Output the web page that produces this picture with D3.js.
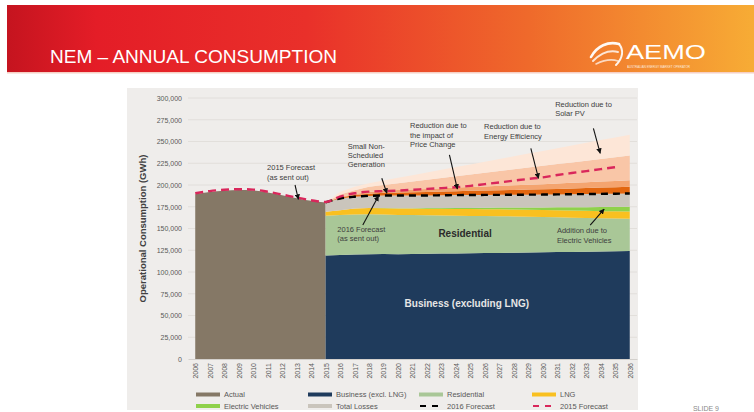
<!DOCTYPE html>
<html>
<head>
<meta charset="utf-8">
<script src="https://cdn.jsdelivr.net/npm/d3@7"></script>
<style>
  body { margin: 0; background: #fff; }
  svg { display: block; font-family: "Liberation Sans", Arial, sans-serif; }
</style>
</head>
<body>
<svg id="chart" width="754" height="412"></svg>
<script>
// categories
const years = ["2006","2007","2008","2009","2010","2011","2012","2013","2014","2015","2016",
  "2017","2018","2019","2020","2021","2022","2023","2024","2025","2026","2027","2028","2029",
  "2030","2031","2032","2033","2034","2035","2036"];
const actualYears = years.slice(0, 10);     // 2006-2015
const forecastYears = years.slice(9);       // 2015-2036
const f2015Years = years.slice(0, 30);      // 2006-2035

const yTicks = [0, 25000, 50000, 75000, 100000, 125000, 150000, 175000, 200000, 225000, 250000, 275000, 300000];

// values (GWh)
const actual = [189500, 192000, 193500, 194300, 193800, 191500, 188300, 184800, 181800, 179800];

const business = [119000,119500,120000,120300,120600,120500,120800,121000,121200,121300,121500,
  121700,121900,122100,122400,122600,122900,123100,123400,123600,123900,124200];
const residential = [45700,46000,46200,46000,45500,45000,44600,44200,43800,43400,43000,
  42600,42200,41800,41200,40600,40000,39400,38800,38200,37600,37000];
const lng = [4500,5500,6800,7200,7300,7400,7500,7600,7700,7800,7800,
  7900,7900,8000,8000,8000,8100,8100,8100,8100,8200,8200];
const ev = [0,0,0,100,200,300,500,700,900,1100,1400,
  1700,2000,2300,2600,3000,3400,3800,4200,4700,5200,5700];
const losses = [10800,13500,13500,13900,14400,14800,14600,14500,14600,14800,14800,
  14700,14700,14600,14700,14800,14800,15000,15100,15200,15100,15200];
const snsg = [0,1000,2000,2500,3000,3300,3600,3900,4200,4500,4800,
  5000,5300,5500,5800,6000,6300,6600,6900,7200,7500,7800];
const priceChange = [0,600,1200,2000,2500,3000,3300,3600,3900,4100,4400,
  4700,5000,5300,5600,5900,6200,6500,6800,7000,7200,7500];
const energyEff = [0,2900,4300,6000,6500,7700,9100,10500,11700,13000,14300,
  15700,17000,18400,19700,21100,22300,23500,24700,26000,27300,28400];
const solarPV = [0,3000,4000,4000,5100,6200,7300,8400,9500,10600,11700,
  12800,13900,15000,16100,17200,18300,19400,20500,21600,22700,23800];

const forecast2015 = [190500,193000,194500,195200,194700,192300,189000,185500,182500,180500,
  186600,190500,192400,193000,193600,194500,195500,196400,197400,199000,
  201000,203000,205000,207000,208800,211500,213800,216000,218200,220500];

const stackKeys = ["business","residential","lng","ev","losses","snsg","priceChange","energyEff","solarPV"];
const colors = {
  actual: "#857866", business: "#1f3b5c", residential: "#a9c797", lng: "#f9c020",
  ev: "#8fd14b", losses: "#cac5bc", snsg: "#e2660f", priceChange: "#f4a46f",
  energyEff: "#f9c6a7", solarPV: "#fde6d7", f2016: "#000", f2015: "#d9275b"
};

const svg = d3.select("#chart");
const defs = svg.append("defs");

// slide header
const grad = defs.append("linearGradient").attr("id", "hdr");
[["0%","#c5141f"],["12%","#e41d27"],["40%","#e9302a"],["70%","#ef6a2b"],["100%","#f7ac35"]]
  .forEach(s => grad.append("stop").attr("offset", s[0]).attr("stop-color", s[1]));

svg.append("rect").attr("x", 7).attr("y", 5).attr("width", 747).attr("height", 67).attr("fill", "url(#hdr)");
svg.append("rect").attr("x", 7).attr("y", 72).attr("width", 747).attr("height", 1.5).attr("fill", "#f6cfc4");

svg.append("text")
  .attr("x", 50).attr("y", 63)
  .attr("fill", "#fff")
  .style("font-family", "'Liberation Sans Narrow', 'Liberation Sans', Arial, sans-serif")
  .style("font-size", "18px")
  .attr("textLength", 287).attr("lengthAdjust", "spacingAndGlyphs")
  .text("NEM \u2013 ANNUAL CONSUMPTION");

// AEMO logo (rough)
const logo = svg.append("g").attr("fill", "none").attr("stroke", "#fff").attr("stroke-linecap", "round");
logo.append("path").attr("d", "M591,57 C597,46 608,41 619,44").attr("stroke-width", 2.6).attr("opacity", 0.95);
logo.append("path").attr("d", "M593,61 C601,53 610,50 618,52").attr("stroke-width", 2).attr("opacity", 0.8);
logo.append("path").attr("d", "M596,64 C604,60 612,59 618,61").attr("stroke-width", 1.6).attr("opacity", 0.7);
logo.append("path").attr("d", "M619,44 C624,50 623,58 616,65").attr("stroke-width", 2).attr("opacity", 0.9);
svg.append("text").attr("x", 626).attr("y", 59).attr("fill", "#fff")
  .style("font-size", "20px")
  .attr("textLength", 80).attr("lengthAdjust", "spacingAndGlyphs")
  .text("AEMO");
svg.append("text").attr("x", 627).attr("y", 67.5).attr("fill", "#fff").attr("opacity", 0.8)
  .style("font-size", "3px").text("AUSTRALIAN ENERGY MARKET OPERATOR");

// chart panel
svg.append("rect").attr("x", 127).attr("y", 88).attr("width", 511).attr("height", 322).attr("fill", "#efedeb");

svg.append("text").attr("x", 719).attr("y", 411).attr("text-anchor", "end")
  .attr("fill", "#8a8a8a").style("font-size", "7px").text("SLIDE 9");

// scales
const x = d3.scalePoint().domain(years).range([188, 637]).padding(0.5);
const xl = d3.scaleLinear().domain([2006, 2036]).range([x("2006"), x("2036")]);
const y = d3.scaleLinear().domain([0, 300000]).range([359, 98]);

// gridlines
svg.append("g").selectAll("line")
  .data(yTicks.slice(1))
  .enter().append("line")
  .attr("x1", 188).attr("x2", 637)
  .attr("y1", d => y(d)).attr("y2", d => y(d))
  .attr("stroke", "#dedbd7").attr("stroke-width", 0.8);

// actual history
const actualData = actualYears.map((yr, i) => ({ year: yr, value: actual[i] }));
svg.append("path")
  .datum(actualData)
  .attr("fill", colors.actual)
  .attr("d", d3.area().x(d => x(d.year)).y0(y(0)).y1(d => y(d.value)).curve(d3.curveMonotoneX));

// forecast stack
const rows = forecastYears.map((yr, i) => ({
  year: yr, business: business[i], residential: residential[i], lng: lng[i], ev: ev[i],
  losses: losses[i], snsg: snsg[i], priceChange: priceChange[i], energyEff: energyEff[i], solarPV: solarPV[i]
}));
const series = d3.stack().keys(stackKeys)(rows);

svg.append("g").selectAll("path")
  .data(series)
  .enter().append("path")
  .attr("fill", s => colors[s.key])
  .attr("d", d3.area().x(d => x(d.data.year)).y0(d => y(d[0])).y1(d => y(d[1])));

// axes
const yAxis = d3.axisLeft(y).tickValues(yTicks).tickFormat(d3.format(",")).tickSize(0).tickPadding(6);
svg.append("g").attr("transform", "translate(188,0)").call(yAxis)
  .call(g => g.select(".domain").remove())
  .selectAll("text").attr("fill", "#595959").style("font-size", "7px").style("font-family", "'Liberation Sans', Arial, sans-serif");

const xAxis = d3.axisBottom(x).tickSize(0);
svg.append("g").attr("transform", "translate(0,359)").call(xAxis)
  .call(g => g.select(".domain").attr("stroke", "#d3d0cc"))
  .selectAll("text")
  .attr("transform", "rotate(-90)")
  .attr("text-anchor", "end")
  .attr("x", -4).attr("y", 0).attr("dy", "0.35em")
  .attr("fill", "#595959").style("font-size", "7px").style("font-family", "'Liberation Sans', Arial, sans-serif");

svg.append("text")
  .attr("transform", "translate(146," + y(150000) + ") rotate(-90)")
  .attr("text-anchor", "middle")
  .attr("fill", "#404040")
  .style("font-size", "9.5px").style("font-weight", "bold")
  .text("Operational Consumption (GWh)");

// forecast lines
const f2016Line = series[stackKeys.indexOf("losses")];
svg.append("path")
  .datum(f2016Line)
  .attr("fill", "none").attr("stroke", colors.f2016).attr("stroke-width", 2.4)
  .attr("stroke-dasharray", "7,5")
  .attr("d", d3.line().x(d => x(d.data.year)).y(d => y(d[1])).curve(d3.curveMonotoneX));

svg.append("path")
  .datum(f2015Years.map((yr, i) => ({ year: yr, value: forecast2015[i] })))
  .attr("fill", "none").attr("stroke", colors.f2015).attr("stroke-width", 2.4)
  .attr("stroke-dasharray", "8,5")
  .attr("d", d3.line().x(d => x(d.year)).y(d => y(d.value)).curve(d3.curveMonotoneX));

// annotations (positions in year / GWh)
defs.append("marker").attr("id", "arr")
  .attr("viewBox", "0 0 10 10").attr("refX", 9).attr("refY", 5)
  .attr("markerWidth", 5).attr("markerHeight", 5).attr("orient", "auto")
  .append("path").attr("d", "M0,0 L10,5 L0,10 z").attr("fill", "#111");

const notes = [
  { lines: ["2015 Forecast", "(as sent out)"], at: [2010.96, 216800], from: [2012.89, 200000], to: [2013.12, 183600] },
  { lines: ["Small Non-", "Scheduled", "Generation"], at: [2016.53, 241700], from: [2018.88, 207700], to: [2019.23, 190500] },
  { lines: ["Reduction due to", "the impact of", "Price Change"], at: [2020.83, 265100], from: [2023.55, 234500], to: [2024.1, 195400] },
  { lines: ["Reduction due to", "Energy Efficiency"], at: [2025.94, 263900], from: [2029.17, 242200], to: [2029.7, 207700] },
  { lines: ["Reduction due to", "Solar PV"], at: [2030.85, 289700], from: [2033.49, 265200], to: [2033.96, 236400] },
  { lines: ["2016 Forecast", "(as sent out)"], at: [2015.81, 146000], from: [2017.57, 154000], to: [2018.65, 187400] },
  { lines: ["Addition due to", "Electric Vehicles"], at: [2030.97, 144400], from: [2033.27, 154000], to: [2034.23, 172300] }
];

const ann = svg.append("g");
notes.forEach(n => {
  const t = ann.append("text")
    .attr("x", xl(n.at[0])).attr("y", y(n.at[1]))
    .attr("fill", "#404040").style("font-size", "7.5px");
  n.lines.forEach((l, i) => {
    t.append("tspan").attr("x", xl(n.at[0])).attr("dy", i ? 9.2 : 0).text(l);
  });
  ann.append("line")
    .attr("x1", xl(n.from[0])).attr("y1", y(n.from[1]))
    .attr("x2", xl(n.to[0])).attr("y2", y(n.to[1]))
    .attr("stroke", "#111").attr("stroke-width", 1.1)
    .attr("marker-end", "url(#arr)");
});

svg.append("text")
  .attr("x", xl(2024.63)).attr("y", y(140200)).attr("text-anchor", "middle")
  .attr("fill", "#2b2b2b").style("font-size", "10px").style("font-weight", "bold")
  .text("Residential");
svg.append("text")
  .attr("x", xl(2024.75)).attr("y", y(59800)).attr("text-anchor", "middle")
  .attr("fill", "#e6e6e6").style("font-size", "10px").style("font-weight", "bold")
  .text("Business (excluding LNG)");

// legend
const legendItems = [
  { label: "Actual", color: colors.actual, dash: false, col: 0, row: 0 },
  { label: "Business (excl. LNG)", color: colors.business, dash: false, col: 1, row: 0 },
  { label: "Residential", color: colors.residential, dash: false, col: 2, row: 0 },
  { label: "LNG", color: colors.lng, dash: false, col: 3, row: 0 },
  { label: "Electric Vehicles", color: colors.ev, dash: false, col: 0, row: 1 },
  { label: "Total Losses", color: colors.losses, dash: false, col: 1, row: 1 },
  { label: "2016 Forecast", color: colors.f2016, dash: true, col: 2, row: 1 },
  { label: "2015 Forecast", color: colors.f2015, dash: true, col: 3, row: 1 }
];
const colX = [196, 308, 419, 532];
const rowY = [394.5, 406];

const legend = svg.append("g").selectAll("g")
  .data(legendItems)
  .enter().append("g")
  .attr("transform", d => "translate(" + colX[d.col] + "," + rowY[d.row] + ")");

legend.append("line")
  .attr("x1", 0).attr("x2", 24).attr("y1", 0).attr("y2", 0)
  .attr("stroke", d => d.color)
  .attr("stroke-width", d => d.dash ? 2.2 : 4)
  .attr("stroke-dasharray", d => d.dash ? "6,6" : null)
  .attr("stroke-dashoffset", d => d.dash ? -1 : null);

legend.append("text")
  .attr("x", 28).attr("y", 0).attr("dy", "0.35em")
  .attr("fill", "#595959").style("font-size", "7.5px")
  .text(d => d.label);
</script>
</body>
</html>
